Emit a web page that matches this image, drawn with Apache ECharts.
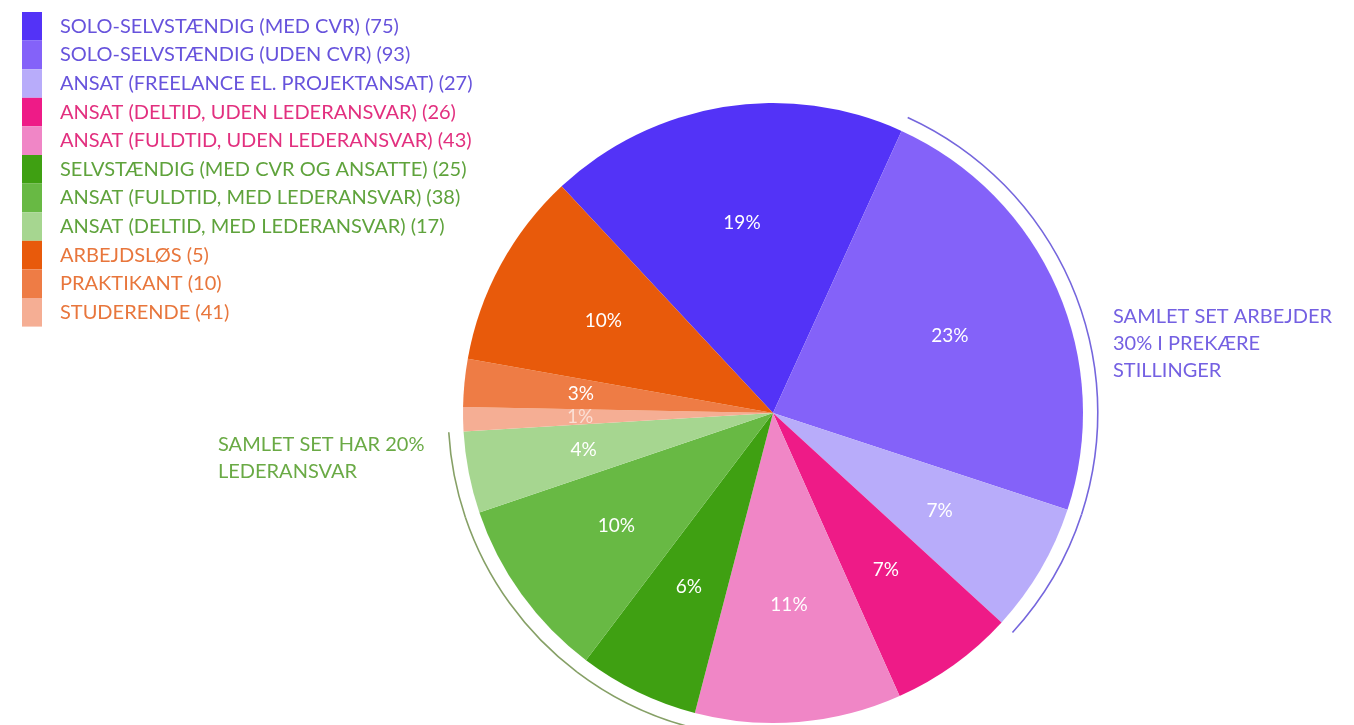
<!DOCTYPE html>
<html>
<head>
<meta charset="utf-8">
<script src="https://cdn.jsdelivr.net/npm/echarts@6/dist/echarts.min.js"></script>
<style>
  html, body { margin: 0; padding: 0; background: #fff; }
  #chart { width: 1354px; height: 725px; }
</style>
</head>
<body>
<div id="chart"></div>
<script>
// data
const categories = [
  'SOLO-SELVSTÆNDIG (MED CVR)',
  'SOLO-SELVSTÆNDIG (UDEN CVR)',
  'ANSAT (FREELANCE EL. PROJEKTANSAT)',
  'ANSAT (DELTID, UDEN LEDERANSVAR)',
  'ANSAT (FULDTID, UDEN LEDERANSVAR)',
  'SELVSTÆNDIG (MED CVR OG ANSATTE)',
  'ANSAT (FULDTID, MED LEDERANSVAR)',
  'ANSAT (DELTID, MED LEDERANSVAR)',
  'ARBEJDSLØS',
  'PRAKTIKANT',
  'STUDERENDE'
];
const counts = [75, 93, 27, 26, 43, 25, 38, 17, 5, 10, 41];
// groups marked with an arc: 1 = prekære stillinger, 2 = lederansvar
const arcGroup = [0, 1, 1, 0, 0, 2, 2, 2, 0, 0, 0];

// styles
const sliceColors = ['#5333f7', '#8462f9', '#b8acfa', '#ee1b87', '#f086c6',
  '#3fa012', '#68b944', '#a6d690', '#f5ae94', '#ee7c45', '#e85a0b'];
const legendColors = ['#5333f7', '#8462f9', '#b8acfa', '#ee1b87', '#f086c6',
  '#3fa012', '#68b944', '#a6d690', '#e85a0b', '#ee7c45', '#f5ae94'];
const textColors = ['#6753dc', '#6753dc', '#6753dc', '#e2307f', '#e2307f',
  '#5fa33c', '#5fa33c', '#5fa33c', '#e8763c', '#e8763c', '#e8763c'];
const arcColors = ['rgba(0,0,0,0)', '#7566dd', '#86a066'];

const total = counts.reduce((a, b) => a + b, 0);
const names = categories.map((c, i) => c + ' (' + counts[i] + ')');
const font = 'Lato, "Open Sans", sans-serif';
const center = [773, 413];
const startAngle = 133;

const chart = echarts.init(document.getElementById('chart'));

const option = {
  backgroundColor: '#fff',
  animation: false,
  legend: {
    orient: 'vertical',
    left: 22,
    top: 12,
    padding: 0,
    itemWidth: 20,
    itemHeight: 28.6,
    itemGap: 0,
    icon: 'rect',
    selectedMode: false,
    textStyle: { fontFamily: font, fontSize: 20 },
    data: names.map((n, i) => ({
      name: n,
      itemStyle: { color: legendColors[i] },
      textStyle: { color: textColors[i], fontFamily: font, fontSize: 20, padding: [2, 0, 0, 13] }
    }))
  },
  graphic: [
    {
      type: 'text', left: 1113, top: 303,
      style: {
        text: 'SAMLET SET ARBEJDER\n30% I PREKÆRE\nSTILLINGER',
        fill: '#7460e2', font: '20px ' + font, lineHeight: 27
      }
    },
    {
      type: 'text', left: 218, top: 431,
      style: {
        text: 'SAMLET SET HAR 20%\nLEDERANSVAR',
        fill: '#6aaa45', font: '20px ' + font, lineHeight: 27
      }
    }
  ],
  series: [
    {
      name: 'pie',
      type: 'pie',
      center: center,
      radius: [0, 310],
      startAngle: startAngle,
      clockwise: true,
      avoidLabelOverlap: false,
      silent: true,
      label: { show: false },
      labelLine: { show: false },
      itemStyle: { borderWidth: 0 },
      data: names.map((n, i) => ({ name: n, value: counts[i], itemStyle: { color: sliceColors[i] } }))
    },
    {
      // label ring, pushes the percentages further out than the pie midpoint
      name: 'labels',
      type: 'pie',
      center: center,
      radius: [70, 310],
      startAngle: startAngle,
      silent: true,
      avoidLabelOverlap: false,
      itemStyle: { color: 'rgba(0,0,0,0)', borderWidth: 0 },
      label: {
        show: true,
        position: 'inside',
        color: '#fff',
        fontFamily: font,
        fontSize: 19,
        formatter: p => Math.round(p.value / total * 100) + '%'
      },
      labelLine: { show: false },
      data: names.map((n, i) => ({
        name: n, value: counts[i],
        label: i === 8 ? { color: 'rgba(255,255,255,0.6)' } : {}
      }))
    },
    {
      name: 'arcs',
      type: 'pie',
      center: center,
      radius: [324, 325.6],
      startAngle: startAngle,
      silent: true,
      label: { show: false },
      labelLine: { show: false },
      itemStyle: { borderWidth: 0 },
      data: names.map((n, i) => ({ name: n, value: counts[i], itemStyle: { color: arcColors[arcGroup[i]] } }))
    }
  ]
};

option && chart.setOption(option);
</script>
</body>
</html>
